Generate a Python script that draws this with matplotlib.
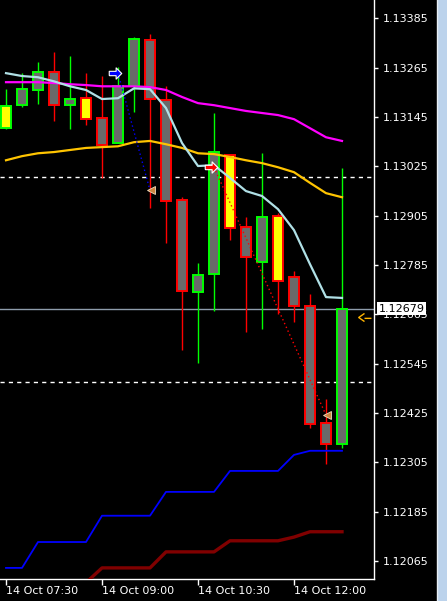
import numpy as np
import matplotlib
matplotlib.use("Agg")
import matplotlib.pyplot as plt
from matplotlib.patches import Rectangle
from matplotlib.path import Path
import matplotlib.transforms as mtrans

# --- EURUSD M15, 14 Oct 07:30 .. 12:45 -----------------------------------
opens  = [1.13118, 1.13174, 1.13211, 1.13254, 1.13174, 1.13191, 1.13143, 1.13082,
          1.13220, 1.13332, 1.13186, 1.12943, 1.12719, 1.12763, 1.13053, 1.12877,
          1.12792, 1.12904, 1.12756, 1.12685, 1.12401, 1.12350]
highs  = [1.13213, 1.13252, 1.13279, 1.13303, 1.13293, 1.13252, 1.13245, 1.13267,
          1.13340, 1.13347, 1.13220, 1.12950, 1.12790, 1.13155, 1.13053, 1.12902,
          1.13057, 1.12912, 1.12770, 1.12715, 1.12459, 1.13021]
lows   = [1.13116, 1.13169, 1.13177, 1.13135, 1.13116, 1.13125, 1.12997, 1.13082,
          1.13157, 1.12924, 1.12838, 1.12578, 1.12547, 1.12673, 1.12846, 1.12622,
          1.12629, 1.12666, 1.12646, 1.12389, 1.12301, 1.12340]
closes = [1.13172, 1.13213, 1.13254, 1.13174, 1.13189, 1.13140, 1.13077, 1.13220,
          1.13335, 1.13189, 1.12941, 1.12722, 1.12761, 1.13060, 1.12875, 1.12805,
          1.12902, 1.12746, 1.12685, 1.12398, 1.12350, 1.12679]
highlight = [1, 0, 0, 0, 0, 1, 0, 0, 0, 0, 0, 0, 0, 0, 1, 0, 0, 1, 0, 0, 0, 0]

ma_fast = [1.13252, 1.13245, 1.13242, 1.13232, 1.13220, 1.13211, 1.13189, 1.13191,
           1.13215, 1.13213, 1.13167, 1.13082, 1.13026, 1.13028, 1.12997, 1.12965,
           1.12953, 1.12921, 1.12870, 1.12787, 1.12707, 1.12705]
ma_slow = [1.13230, 1.13230, 1.13230, 1.13228, 1.13225, 1.13223, 1.13220, 1.13220,
           1.13220, 1.13218, 1.13211, 1.13194, 1.13179, 1.13174, 1.13167, 1.13160,
           1.13155, 1.13150, 1.13140, 1.13118, 1.13096, 1.13087]
ma_mid = [1.13040, 1.13050, 1.13057, 1.13060, 1.13065, 1.13070, 1.13072, 1.13074,
          1.13084, 1.13087, 1.13079, 1.13070, 1.13057, 1.13055, 1.13048, 1.13040,
          1.13033, 1.13023, 1.13011, 1.12985, 1.12960, 1.12950]
stop_blue = [1.12048, 1.12048, 1.12111, 1.12111, 1.12111, 1.12111, 1.12175, 1.12175,
             1.12175, 1.12175, 1.12233, 1.12233, 1.12233, 1.12233, 1.12284, 1.12284,
             1.12284, 1.12284, 1.12323, 1.12333, 1.12333, 1.12333]
stop_red = [np.nan, np.nan, np.nan, np.nan, np.nan, 1.12012, 1.12048, 1.12048,
            1.12048, 1.12048, 1.12087, 1.12087, 1.12087, 1.12087, 1.12114, 1.12114,
            1.12114, 1.12114, 1.12123, 1.12136, 1.12136, 1.12136]

round_levels = [1.13000, 1.12500]
ask_price = 1.12659

# trades: (open bar, open price, close bar, close price, colour)
trade_open_bar = [7, 13]
trade_open_px = [1.13252, 1.13023]
trade_close_bar = [9, 20]
trade_close_px = [1.12967, 1.12420]
trade_col = ['#0000ff', '#ff0000']

price_ticks = [1.12065, 1.12185, 1.12305, 1.12425, 1.12545, 1.12665,
               1.12785, 1.12905, 1.13025, 1.13145, 1.13265, 1.13385]
time_tick_bars = [0, 6, 12, 18]
time_labels = ['14 Oct 07:30', '14 Oct 09:00', '14 Oct 10:30', '14 Oct 12:00']

# ------------------------------------------------------------------------
W, H = 447, 601
fig = plt.figure(figsize=(W / 100, H / 100), dpi=100, facecolor='black')
ax = fig.add_axes([0, 22 / H, 374 / W, 579 / H], facecolor='black')

# right-hand window strip
fig.patches.append(Rectangle((437.5 / W, 0), 1 - 437.5 / W, 1, transform=fig.transFigure,
                             fc='#bcd3ec', ec='none', zorder=0))
fig.lines.append(plt.Line2D([437 / W, 437 / W], [0, 1], transform=fig.transFigure,
                            color='#e8eef5', lw=1))

x = np.arange(len(opens))
bw = 0.63
gray = '#6a6a6a'

# price / round levels
last = closes[-1]
ax.axhline(last, color='#8e9cab', lw=1, zorder=1)
for lv in round_levels:
    ax.axhline(lv, color='white', lw=1, ls=(0, (3, 3)), zorder=1)

# candles
for i in x:
    o, h, l, c = opens[i], highs[i], lows[i], closes[i]
    ec = '#00ff00' if c >= o else '#ff0000'
    ax.vlines(i, l, h, color=ec, lw=1, zorder=2)
    fc = '#ffff00' if highlight[i] else gray
    ax.add_patch(Rectangle((i - bw / 2, min(o, c)), bw, abs(c - o),
                           fc=fc, ec=ec, lw=1.4, zorder=3))

# indicator lines
ax.plot(x, ma_slow, color='#ff00ff', lw=1.6, zorder=4)
ax.plot(x, ma_mid, color='#ffc400', lw=1.6, zorder=4)
ax.plot(x, ma_fast, color='#b0e0e6', lw=1.6, zorder=4)
ax.plot(x, stop_blue, color='#0000ff', lw=1.3, zorder=4)
ax.plot(x, stop_red, color='#800000', lw=2.4, zorder=4)

# trades
arrow = Path([(-1, -0.35), (0.1, -0.35), (0.1, -0.9), (1, 0), (0.1, 0.9),
              (0.1, 0.35), (-1, 0.35), (-1, -0.35)])
for ob, op, cb, cp, col in zip(trade_open_bar, trade_open_px,
                               trade_close_bar, trade_close_px, trade_col):
    ax.plot([ob, cb], [op, cp], color=col, lw=1, ls=(0, (1, 2)), zorder=5)
    ax.plot(ob - 0.2, op, marker=arrow, ms=9, mfc=col, mec='white', mew=0.8, zorder=6)
    ax.plot(cb + 0.05, cp, marker='<', ms=6, mfc='#cd853f', mec='#f3dcc0', mew=0.6, zorder=6)

# ask arrow at right edge
ask_mark = Path([(0, 0.7), (-1, 0), (0, -0.7), (0, -0.15), (1.2, -0.15)],
                [Path.MOVETO, Path.LINETO, Path.LINETO, Path.MOVETO, Path.LINETO])
ax.plot(len(opens) + 0.4, ask_price, marker=ask_mark, ms=10, mfc='none',
        mec='#ffb400', mew=1, clip_on=False, zorder=6)

ax.set_xlim(-0.375, 23.0)
ax.set_ylim(1.12021, 1.13430)

for s in ['top', 'left']:
    ax.spines[s].set_visible(False)
for s in ['right', 'bottom']:
    ax.spines[s].set_color('white')
    ax.spines[s].set_linewidth(1)

ax.yaxis.tick_right()
ax.set_yticks(price_ticks)
ax.set_yticklabels([f'{p:.5f}' for p in price_ticks])
ax.tick_params(axis='y', colors='white', length=3, width=1, pad=3, labelsize=8)
ax.set_xticks(time_tick_bars)
ax.set_xticklabels(time_labels)
ax.tick_params(axis='x', colors='white', length=4, width=1, pad=1, labelsize=8)
for lbl in ax.get_xticklabels():
    lbl.set_ha('left')

# current price box
tr = mtrans.blended_transform_factory(ax.transAxes, ax.transData)
ax.text(1.012, last, f'{last:.5f}', transform=tr, ha='left', va='center',
        fontsize=8, color='black', zorder=10, clip_on=False,
        bbox=dict(fc='white', ec='none', pad=1.2))

fig.savefig('out.png', dpi=100, facecolor='black')
